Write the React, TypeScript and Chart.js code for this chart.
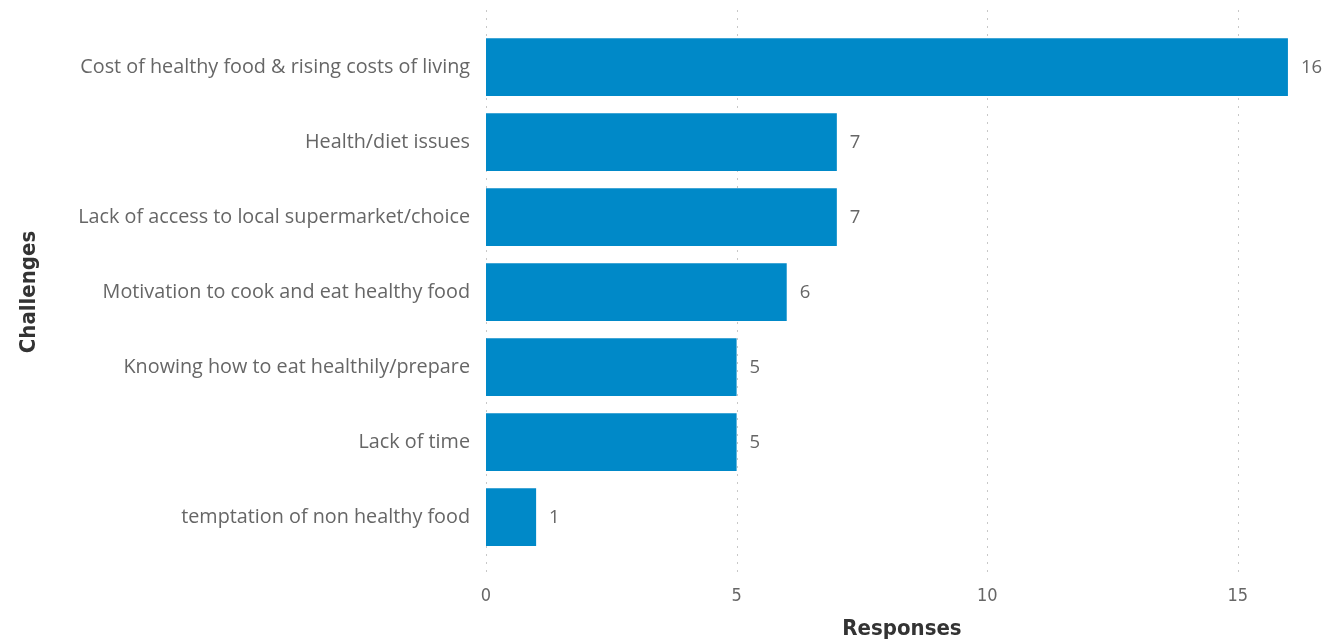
import React, { useEffect, useRef } from "react";
import { Chart, registerables } from "chart.js";

Chart.register(...registerables);

const categories = [
  "Cost of healthy food & rising costs of living",
  "Health/diet issues",
  "Lack of access to local supermarket/choice",
  "Motivation to cook and eat healthy food",
  "Knowing how to eat healthily/prepare",
  "Lack of time",
  "temptation of non healthy food",
];
const responses = [16, 7, 7, 6, 5, 5, 1];
const xTicks = [0, 5, 10, 15];

const BAR_COLOR = "#0089C8";
const LABEL_FONT = "'Open Sans', 'Noto Sans', sans-serif";
const TITLE_FONT = "'DejaVu Sans Condensed', 'Roboto', sans-serif";

const gridPlugin = {
  id: "dottedGrid",
  beforeDatasetsDraw(chart: any) {
    const ctx = chart.ctx;
    const x = chart.scales.x;
    ctx.save();
    ctx.strokeStyle = "#c8c8c8";
    ctx.lineWidth = 1;
    ctx.setLineDash([2, 6]);
    xTicks.forEach((v) => {
      const px = Math.round(x.getPixelForValue(v)) + 0.5;
      ctx.beginPath();
      ctx.moveTo(px, 10);
      ctx.lineTo(px, 578);
      ctx.stroke();
    });
    ctx.restore();
  },
};

const labelPlugin = {
  id: "barLabels",
  afterDatasetsDraw(chart: any) {
    const ctx = chart.ctx;
    const meta = chart.getDatasetMeta(0);
    ctx.save();
    ctx.fillStyle = "#666666";
    ctx.font = `18.5px ${LABEL_FONT}`;
    ctx.textAlign = "left";
    ctx.textBaseline = "middle";
    meta.data.forEach((bar: any, i: number) => {
      ctx.fillText(String(responses[i]), bar.x + 13, bar.y + 1);
    });
    ctx.restore();
  },
};

export default function App() {
  const ref = useRef<HTMLCanvasElement>(null);
  useEffect(() => {
    document.body.style.margin = "0";
    const chart = new Chart(ref.current!, {
      type: "bar",
      data: {
        labels: categories,
        datasets: [
          {
            data: responses,
            backgroundColor: BAR_COLOR,
            categoryPercentage: 1,
            barPercentage: 0.77,
          },
        ],
      },
      options: {
        indexAxis: "y",
        animation: false,
        responsive: false,
        layout: { padding: { top: 29.5, right: 6, left: 0, bottom: 0 } },
        plugins: { legend: { display: false }, tooltip: { enabled: false } },
        scales: {
          x: {
            min: 0,
            max: 16.6,
            afterBuildTicks(scale: any) {
              scale.ticks = xTicks.map((v) => ({ value: v }));
            },
            afterFit(scale: any) {
              scale.height = 85.5;
            },
            grid: { display: false, drawTicks: false },
            border: { display: false },
            ticks: {
              color: "#666666",
              font: { family: TITLE_FONT, size: 18 },
              padding: 31,
            },
            title: {
              display: true,
              text: "Responses",
              color: "#333333",
              font: { family: TITLE_FONT, size: 22, weight: "bold" },
              padding: { top: 0, bottom: -2 },
            },
          },
          y: {
            afterFit(scale: any) {
              scale.width = 486;
            },
            grid: { display: false, drawTicks: false },
            border: { display: false },
            ticks: {
              color: "#666666",
              font: { family: LABEL_FONT, size: 19.8 },
              padding: 16,
            },
            title: {
              display: true,
              text: "Challenges",
              color: "#333333",
              font: { family: TITLE_FONT, size: 22, weight: "bold" },
              padding: { top: 16, bottom: 0 },
            },
          },
        },
      },
      plugins: [gridPlugin, labelPlugin],
    });
    return () => chart.destroy();
  }, []);
  return <canvas ref={ref} width={1324} height={640} style={{ display: "block" }} />;
}
